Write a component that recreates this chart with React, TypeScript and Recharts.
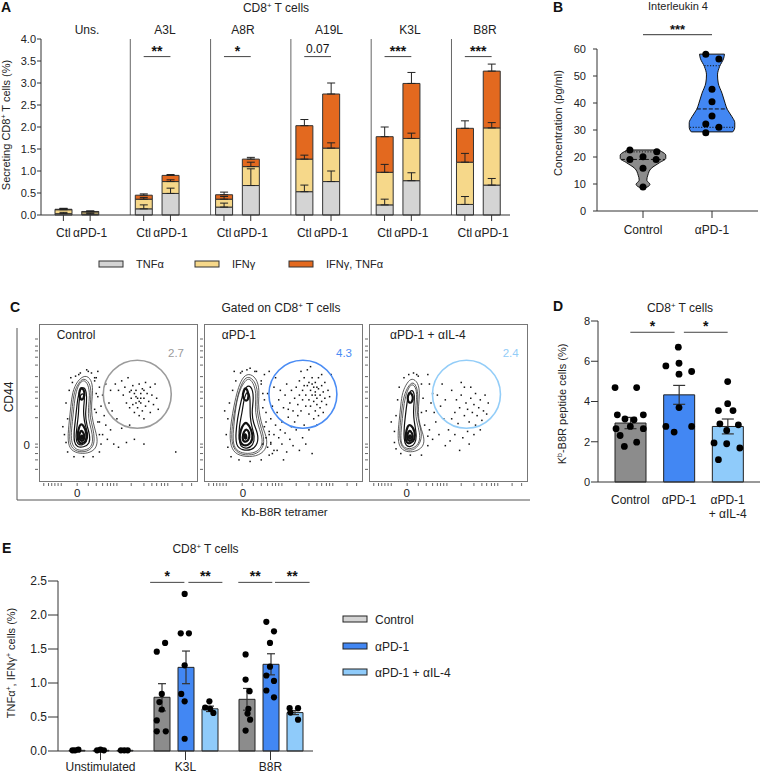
import React from 'react';
import {
  ComposedChart, Bar, XAxis, YAxis, ErrorBar, ReferenceLine, ReferenceDot,
  Scatter, Area, Line, Cell,
} from 'recharts';

const FONT = "'Liberation Sans', Arial, Helvetica, sans-serif";
const INK = '#222';

// ---------------- Panel A data ----------------
const aGroups = ['Uns.', 'A3L', 'A8R', 'A19L', 'K3L', 'B8R'];
const aConds = ['Ctl', 'αPD-1'];
const aTnf = [0.03, 0.02, 0.14, 0.49, 0.18, 0.67, 0.53, 0.76, 0.23, 0.78, 0.24, 0.68];
const aIfng = [0.09, 0.05, 0.22, 0.27, 0.18, 0.43, 0.74, 0.76, 0.74, 0.96, 0.96, 1.30];
const aBoth = [0.01, 0.01, 0.09, 0.14, 0.10, 0.17, 0.76, 1.23, 0.81, 1.25, 0.77, 1.29];
const aTnfErr = [0.03, 0.02, 0.09, 0.12, 0.09, 0.38, 0.15, 0.24, 0.13, 0.18, 0.18, 0.15];
const aIfngErr = [0.03, 0.02, 0.04, 0.04, 0.06, 0.10, 0.09, 0.12, 0.18, 0.12, 0.20, 0.12];
const aBothErr = [0.02, 0.01, 0.03, 0.02, 0.06, 0.04, 0.14, 0.25, 0.22, 0.25, 0.17, 0.16];
const aSig = ['', '**', '*', '0.07', '***', '***'];
const aSigLevel = 3.6;
const aLegend = ['TNFα', 'IFNγ', 'IFNγ, TNFα'];

// ---------------- Panel B data ----------------
const bGroups = ['Control', 'αPD-1'];
const bCtlLevels = [8.4, 9.0, 9.9, 11.4, 13.3, 15.8, 17.9, 19.5, 20.7, 22.0, 22.6];
const bCtlHalf = [0.01, 0.07, 0.10, 0.055, 0.07, 0.12, 0.24, 0.33, 0.33, 0.27, 0.23];
const bPd1Levels = [29.3, 29.6, 31.0, 32.7, 34.9, 37.7, 39.9, 43.6, 47.4, 50.4, 53.5, 56.6, 58.1];
const bPd1Half = [0.30, 0.31, 0.33, 0.33, 0.29, 0.22, 0.19, 0.145, 0.09, 0.08, 0.11, 0.17, 0.18];
const bCtlQuart = [21.9, 19.1];
const bCtlQuartHalf = [0.26, 0.32];
const bCtlQuartMedian = [false, true];
const bPd1Quart = [53.8, 37.8, 31.0];
const bPd1QuartHalf = [0.11, 0.22, 0.32];
const bPd1QuartMedian = [false, true, false];
const bCtlPts = [
  { pos: 0.81, conc: 22.6 }, { pos: 1.2, conc: 21.9 }, { pos: 1.0, conc: 20.1 },
  { pos: 0.81, conc: 19.1 }, { pos: 1.19, conc: 19.1 }, { pos: 1.0, conc: 15.8 }, { pos: 1.0, conc: 8.9 },
];
const bPd1Pts = [
  { pos: 1.91, conc: 58.1 }, { pos: 2.1, conc: 56.3 }, { pos: 2.0, conc: 45.1 }, { pos: 2.0, conc: 40.5 },
  { pos: 2.0, conc: 35.2 }, { pos: 1.91, conc: 32.2 }, { pos: 2.1, conc: 31.0 }, { pos: 1.91, conc: 29.0 },
];
const bSigLevel = 65.3;

// ---------------- Panel C data (box units 0-100) ----------------
const cTitles = ['Control', 'αPD-1', 'αPD-1 + αIL-4'];
const cGateValues = ['2.7', '4.3', '2.4'];
const cGateCenters = [{ x: 61.8, y: 55.5 }, { x: 62.2, y: 55.5 }, { x: 61.3, y: 55.5 }];
const cBottomTicks = [3, 6, 8, 10, 12, 14, 24, 31, 36, 40, 43, 45, 47, 49, 58, 66, 71, 74, 77, 79, 81, 90, 96];
const cLeftTicks = [8, 14, 18, 22, 24, 40.7, 48, 53, 57, 60, 66.7, 74, 79, 83, 86, 90.5];
const cContours1 = [
  [[29, 68], [33, 65], [34, 58], [33, 50], [33, 42], [35, 34], [37, 27], [36, 21], [31, 18], [24, 18], [19, 21], [18, 28], [19, 38], [20, 48], [21, 57], [24, 64]],
  [[28, 66], [32, 63], [33, 56], [32, 48], [32, 41], [34, 34], [35, 27], [34, 22], [30, 19], [24, 19], [20, 22], [19, 28], [20, 38], [21, 48], [22, 57], [25, 63]],
  [[28, 65], [31, 62], [32, 55], [31, 47], [31, 40], [33, 33], [34, 27], [33, 22], [29, 20], [24, 20], [21, 23], [20, 29], [21, 38], [22, 48], [23, 56], [25, 62]],
  [[28, 61], [30, 57], [30, 50], [29, 43], [30, 36], [32, 30], [32, 24], [28, 22], [24, 22], [22, 25], [22, 32], [23, 40], [24, 50], [25, 57]],
  [[27, 57], [29, 54], [28, 48], [28, 42], [29, 36], [31, 30], [30, 25], [27, 23], [24, 24], [23, 28], [24, 36], [25, 44], [25, 52]],
  [[28, 36], [30, 31], [30, 26], [27, 24], [25, 25], [24, 29], [25, 34], [26, 37]],
  [[27, 33], [29, 29], [28, 26], [26, 26], [25, 29], [26, 32]],
  [[27, 60], [29, 57], [28, 52], [26, 52], [25, 56], [26, 59]],
  [[27, 30], [28, 28], [27, 27], [26, 28]],
];
const cContours2 = [
  [[28, 69], [33, 66], [35, 58], [34, 50], [35, 42], [37, 34], [40, 27], [39, 20], [33, 16], [24, 16], [18, 19], [16, 27], [17, 38], [19, 49], [21, 58], [24, 66]],
  [[28, 67], [32, 64], [34, 57], [33, 49], [34, 41], [36, 34], [38, 27], [37, 21], [32, 17], [24, 17], [19, 20], [17, 27], [18, 38], [20, 49], [22, 58], [25, 65]],
  [[28, 66], [31, 63], [33, 56], [32, 48], [33, 40], [35, 33], [37, 27], [36, 21], [31, 18], [24, 18], [19, 21], [18, 28], [19, 38], [20, 48], [22, 57], [25, 63]],
  [[28, 62], [31, 58], [31, 51], [30, 44], [31, 37], [34, 31], [34, 24], [30, 20], [24, 20], [20, 23], [20, 31], [21, 40], [23, 50], [25, 58]],
  [[27, 58], [29, 55], [29, 48], [29, 41], [30, 35], [32, 29], [31, 23], [27, 21], [23, 22], [22, 27], [22, 35], [24, 44], [25, 52]],
  [[27, 38], [30, 33], [31, 27], [28, 23], [24, 23], [22, 27], [23, 33], [25, 37]],
  [[27, 34], [29, 30], [28, 26], [25, 25], [24, 28], [25, 32]],
  [[26, 60], [28, 57], [28, 52], [26, 51], [24, 54], [25, 58]],
  [[26, 31], [27, 28], [26, 27], [25, 29]],
];
const cContours3 = [
  [[27, 66], [31, 63], [32, 56], [31, 48], [31, 40], [33, 33], [35, 27], [34, 22], [29, 19], [23, 19], [19, 22], [18, 29], [19, 39], [20, 49], [21, 57], [24, 63]],
  [[27, 64], [30, 61], [31, 54], [30, 46], [31, 39], [33, 32], [33, 26], [29, 20], [23, 20], [20, 23], [19, 30], [20, 40], [21, 50], [23, 58]],
  [[27, 63], [30, 59], [30, 52], [29, 45], [30, 38], [32, 31], [32, 25], [28, 21], [23, 21], [20, 24], [20, 31], [21, 40], [22, 50], [24, 58]],
  [[27, 59], [29, 55], [28, 48], [28, 41], [29, 35], [30, 29], [29, 24], [26, 22], [23, 23], [22, 27], [22, 34], [23, 43], [24, 51], [25, 56]],
  [[26, 37], [29, 32], [29, 27], [26, 24], [23, 25], [23, 30], [24, 35]],
  [[26, 33], [28, 29], [27, 26], [24, 26], [24, 30], [25, 32]],
  [[26, 57], [28, 54], [27, 50], [25, 50], [24, 53], [25, 56]],
  [[26, 30], [27, 28], [25, 27], [25, 29]],
];
const cDots1 = [
  [48, 62], [50, 58], [52, 64], [53, 55], [54, 60], [55, 50], [56, 66], [57, 57], [57, 47], [58, 53], [59, 61], [60, 44], [60, 56], [61, 50], [61, 58], [62, 53], [62, 47], [63, 62], [63, 42], [64, 56], [64, 50], [65, 59], [65, 45], [66, 53], [66, 40], [67, 63], [67, 48], [68, 56], [69, 51], [70, 60], [70, 44], [71, 55], [72, 49], [73, 62], [74, 53], [75, 46], [61, 54], [59, 49], [63, 51], [64, 53], [66, 58], [58, 58],
  [38, 60], [40, 55], [39, 48], [41, 42], [42, 36], [40, 30], [43, 27], [45, 33], [44, 50], [46, 45], [38, 38], [47, 24], [50, 22], [55, 25], [60, 27], [66, 24], [36, 44], [37, 54], [42, 62], [86, 19], [45, 58], [49, 40], [52, 34], [57, 36], [35, 66], [37, 70], [30, 71], [33, 69], [25, 68],
  [17, 25], [16, 30], [18, 40], [17, 50], [19, 58], [21, 63], [23, 67], [26, 69], [31, 70], [35, 64], [36, 56], [35, 46], [37, 38], [38, 30], [39, 24], [38, 19], [34, 16], [28, 16], [22, 16], [18, 19], [36, 66], [20, 66], [15, 35],
];
const cDots2 = [
  [58, 60], [60, 64], [62, 58], [63, 66], [64, 55], [65, 61], [66, 52], [66, 63], [67, 58], [67, 48], [68, 55], [68, 66], [69, 51], [69, 60], [70, 45], [70, 57], [70, 63], [71, 53], [71, 49], [72, 59], [72, 42], [72, 66], [73, 55], [73, 47], [74, 61], [74, 51], [75, 57], [75, 44], [76, 53], [76, 63], [77, 49], [78, 58], [79, 54], [80, 68], [69, 40], [66, 43], [64, 48], [62, 52], [61, 45], [60, 55], [59, 49], [57, 53], [56, 45], [55, 58], [54, 50], [53, 41], [52, 62], [51, 55], [50, 47], [49, 38], [48, 58], [47, 52], [46, 44], [45, 36], [44, 60], [43, 48], [42, 40], [41, 32], [40, 56], [39, 44], [39, 28], [40, 22], [42, 25], [44, 30], [46, 20], [47, 28], [49, 24], [51, 31], [52, 19], [54, 27], [56, 23], [58, 33], [60, 20], [62, 28], [64, 24], [66, 33], [68, 18], [57, 38], [59, 42], [63, 36], [65, 71], [45, 66], [41, 70], [38, 35], [38, 52], [43, 18], [50, 14], [55, 35], [71, 36], [74, 68], [67, 73], [61, 70], [36, 62], [37, 24], [48, 33], [53, 46], [63, 61], [68, 62], [71, 60], [70, 55], [29, 72], [33, 70], [24, 70],
  [15, 22], [14, 30], [15, 40], [16, 50], [18, 58], [20, 64], [23, 69], [27, 71], [32, 70], [36, 64], [37, 56], [37, 47], [39, 38], [41, 30], [42, 24], [41, 17], [36, 14], [29, 13], [22, 14], [17, 16], [38, 68], [19, 70], [13, 45], [44, 20],
];
const cDots3 = [
  [52, 58], [55, 52], [57, 47], [58, 55], [60, 42], [61, 50], [62, 46], [63, 38], [64, 53], [65, 44], [66, 49], [67, 36], [67, 56], [68, 42], [69, 47], [70, 52], [71, 39], [72, 45], [73, 55], [74, 43], [75, 50], [64, 60], [60, 60], [58, 63], [54, 44], [56, 37], [62, 32], [66, 30], [70, 33], [59, 28],
  [38, 62], [40, 56], [39, 50], [41, 44], [42, 38], [38, 33], [40, 27], [44, 30], [45, 48], [47, 40], [48, 23], [51, 26], [54, 30], [43, 55], [46, 62], [36, 45], [37, 68], [50, 33], [57, 20], [63, 24], [52, 40], [48, 52], [28, 69], [31, 67],
  [16, 25], [16, 32], [17, 42], [18, 52], [19, 60], [22, 66], [25, 68], [30, 68], [33, 62], [34, 53], [33, 44], [35, 36], [37, 29], [37, 23], [33, 17], [26, 17], [20, 18], [17, 21], [14, 38],
];

// ---------------- Panel D data ----------------
const dGroups = ['Control', 'αPD-1', 'αPD-1 + αIL-4'];
const dMeans = [2.93, 4.33, 2.76];
const dSem = [0.28, 0.47, 0.37];
const dPts = [
  [0.686, 4.69], [1.13, 4.69], [0.733, 3.34], [1.267, 3.34], [0.89, 3.13], [1.076, 3.09], [0.706, 2.65], [1.267, 2.65], [1.0, 2.76], [0.79, 2.31], [1.13, 1.98], [0.877, 1.77],
  [1.986, 6.70], [1.73, 5.77], [2.0, 5.90], [2.26, 5.49], [2.0, 5.36], [2.0, 3.70], [1.73, 2.76], [2.26, 2.76], [1.9, 2.48],
  [3.0, 4.99], [3.0, 3.89], [2.81, 3.55], [3.11, 3.55], [2.84, 2.89], [3.22, 2.84], [2.98, 2.56], [2.72, 1.94], [2.98, 1.90], [3.25, 1.69], [2.81, 1.11],
];
const dSigFrom = [1, 2.1];
const dSigTo = [1.91, 3.0];
const dSigText = ['*', '*'];
const dSigLevel = 7.44;

// ---------------- Panel E data ----------------
const eGroups = ['Unstimulated', 'K3L', 'B8R'];
const eSeries = ['Control', 'αPD-1', 'αPD-1 + αIL-4'];
const eCtl = [0.01, 0.79, 0.76];
const eCtlSem = [0.005, 0.2, 0.16];
const ePd1 = [0.01, 1.23, 1.275];
const ePd1Sem = [0.005, 0.24, 0.155];
const eIl4 = [0.01, 0.62, 0.565];
const eIl4Sem = [0.004, 0.04, 0.03];
const ePts = [
  [-0.33, 0.01], [-0.26, 0.02], [-0.3, 0.01], [-0.04, 0.01], [0.0, 0.02], [0.04, 0.01], [0.24, 0.01], [0.28, 0.01], [0.32, 0.01],
  [0.662, 1.46], [0.76, 1.59], [0.721, 0.84], [0.693, 0.72], [0.721, 0.61], [0.662, 0.45], [0.662, 0.29], [0.768, 0.29],
  [0.99, 2.31], [0.944, 1.73], [1.04, 1.73], [0.99, 1.26], [0.95, 0.84], [0.99, 0.73], [0.99, 0.18],
  [1.281, 0.73], [1.231, 0.64], [1.29, 0.62], [1.328, 0.56],
  [1.707, 1.42], [1.707, 1.05], [1.754, 0.88], [1.74, 0.62], [1.73, 0.55], [1.76, 0.46], [1.707, 0.30],
  [1.951, 1.90], [2.041, 1.76], [1.994, 1.59], [1.994, 1.24], [1.951, 1.11], [2.041, 1.03], [1.951, 0.89], [2.041, 0.79],
  [2.225, 0.63], [2.324, 0.63], [2.235, 0.565], [2.324, 0.46],
];
const eSigFrom = [0.584, 1.034, 1.621, 2.053];
const eSigTo = [0.987, 1.434, 2.021, 2.46];
const eSigText = ['*', '**', '**', '**'];
const eSigLevel = 2.48;

// ---------------- colours ----------------
const A_COLORS = ['#d4d4d4', '#f6d88a', '#e3691f'];
const GRAY = '#8c8c8c';
const BLUE = '#4287f3';
const LIGHT = '#8fcbfa';
const GATE_COLORS = ['#9b9b9b', '#4a8cf4', '#93cdf8'];

const starLabel = (value: string, size = 14) => ({
  value, position: 'top' as const, offset: value.includes('*') ? 1 : 4, fontSize: size,
  fontWeight: value.includes('*') ? 700 : 400, fill: '#111',
});

const dotShape = (r: number) => (p: any) =>
  p.cx == null ? <g /> : <circle cx={p.cx} cy={p.cy} r={r} fill="#000" />;
const tinyShape = (p: any) =>
  p.cx == null ? <g /> : <rect x={p.cx - 0.75} y={p.cy - 0.75} width={1.5} height={1.5} fill="#111" />;
const bottomTick = (p: any) => <line x1={p.x} x2={p.x} y1={p.y + 1} y2={p.y + 4} stroke="#666" />;
const leftTick = (p: any) => <line x1={p.x - 4} x2={p.x - 1} y1={p.y} y2={p.y} stroke="#666" />;

// ---------------- Panel A ----------------
function PanelA() {
  const rows: any[] = [];
  aGroups.forEach((g, gi) => {
    aConds.forEach((c, ci) => {
      const i = gi * 2 + ci;
      rows.push({
        key: `${g}|${c}`, label: c,
        tnf: aTnf[i], ifng: aIfng[i], both: aBoth[i],
        eTnf: [0, aTnfErr[i]], eIfng: [0, aIfngErr[i]], eBoth: [0, aBothErr[i]],
      });
    });
    if (gi < aGroups.length - 1) rows.push({ key: `gap${gi}`, label: '' });
  });
  const tick = (p: any) => {
    const row = rows.find((r) => r.key === p.payload.value);
    if (!row || !row.label) return <g />;
    return (
      <g>
        <line x1={p.x} x2={p.x} y1={p.y - 6} y2={p.y} stroke="#333" />
        <text x={p.x} y={p.y + 16} textAnchor="middle" fontSize={12} fill={INK}>{row.label}</text>
      </g>
    );
  };
  return (
    <ComposedChart width={530} height={250} data={rows} margin={{ top: 39, right: 20, bottom: 5, left: 0 }}>
      <XAxis dataKey="key" type="category" interval={0} tick={tick} tickLine={false} tickSize={6} tickMargin={0}
        height={30} padding={{ left: 9, right: 5 }} stroke="#333" />
      <YAxis domain={[0, 4]} ticks={[0, 0.5, 1, 1.5, 2, 2.5, 3, 3.5, 4]} tickFormatter={(v: number) => v.toFixed(1)}
        width={41} tickSize={4} tickMargin={1} stroke="#333" tick={{ fontSize: 11, fill: INK }} />
      {aGroups.slice(0, -1).map((g, gi) => (
        <ReferenceLine key={`sep${gi}`} x={`gap${gi}`} position="end" stroke="#666" strokeWidth={1} />
      ))}
      <Bar dataKey="tnf" stackId="s" fill={A_COLORS[0]} stroke="#333" strokeWidth={1} barSize={17} isAnimationActive={false}>
        <ErrorBar dataKey="eTnf" width={4} stroke="#222" strokeWidth={1} direction="y" />
      </Bar>
      <Bar dataKey="ifng" stackId="s" fill={A_COLORS[1]} stroke="#333" strokeWidth={1} barSize={17} isAnimationActive={false}>
        <ErrorBar dataKey="eIfng" width={4} stroke="#222" strokeWidth={1} direction="y" />
      </Bar>
      <Bar dataKey="both" stackId="s" fill={A_COLORS[2]} stroke="#333" strokeWidth={1} barSize={17} isAnimationActive={false}>
        <ErrorBar dataKey="eBoth" width={4} stroke="#222" strokeWidth={1} direction="y" />
      </Bar>
      {aGroups.map((g, gi) => aSig[gi] ? (
        <ReferenceLine key={`sig${gi}`} segment={[{ x: `${g}|Ctl`, y: aSigLevel }, { x: `${g}|αPD-1`, y: aSigLevel }]}
          stroke="#444" strokeWidth={1} ifOverflow="visible"
          label={starLabel(aSig[gi], aSig[gi].includes('*') ? 14 : 12)} />
      ) : null)}
    </ComposedChart>
  );
}

// ---------------- Panel B ----------------
function PanelB() {
  const ctl = bCtlLevels.map((c, i) => ({ conc: c, w: [1 - bCtlHalf[i], 1 + bCtlHalf[i]] }));
  const pd1 = bPd1Levels.map((c, i) => ({ conc: c, w: [2 - bPd1Half[i], 2 + bPd1Half[i]] }));
  const ends = [
    { c: 1, v: bCtlLevels[0], h: bCtlHalf[0] },
    { c: 1, v: bCtlLevels[bCtlLevels.length - 1], h: bCtlHalf[bCtlHalf.length - 1] },
    { c: 2, v: bPd1Levels[0], h: bPd1Half[0] },
    { c: 2, v: bPd1Levels[bPd1Levels.length - 1], h: bPd1Half[bPd1Half.length - 1] },
  ];
  const quarts = [
    ...bCtlQuart.map((v, i) => ({ c: 1, v, h: bCtlQuartHalf[i], m: bCtlQuartMedian[i] })),
    ...bPd1Quart.map((v, i) => ({ c: 2, v, h: bPd1QuartHalf[i], m: bPd1QuartMedian[i] })),
  ];
  return (
    <ComposedChart layout="vertical" width={220} height={250} margin={{ top: 49, right: 2, bottom: 9, left: 0 }}>
      <XAxis type="number" dataKey="pos" domain={[1 / 3, 8 / 3]} ticks={[1, 2]} allowDataOverflow
        tickFormatter={(v: number) => bGroups[Math.round(v) - 1]} height={30} tickSize={7} tickMargin={7}
        stroke="#333" tick={{ fontSize: 12, fill: INK }} />
      <YAxis type="number" dataKey="conc" domain={[0, 60]} ticks={[0, 10, 20, 30, 40, 50, 60]} reversed
        width={57} tickSize={4} tickMargin={7} stroke="#333" tick={{ fontSize: 11, fill: INK }} />
      <Area data={ctl} dataKey="w" type="monotone" fill={GRAY} fillOpacity={1} stroke="#111" strokeWidth={1}
        dot={false} activeDot={false} isAnimationActive={false} />
      <Area data={pd1} dataKey="w" type="monotone" fill={BLUE} fillOpacity={1} stroke="#111" strokeWidth={1}
        dot={false} activeDot={false} isAnimationActive={false} />
      {ends.map((e, i) => (
        <ReferenceLine key={`end${i}`} segment={[{ x: e.c - e.h, y: e.v }, { x: e.c + e.h, y: e.v }]}
          stroke="#111" strokeWidth={1} ifOverflow="visible" />
      ))}
      {quarts.map((q, i) => (
        <ReferenceLine key={`q${i}`} segment={[{ x: q.c - q.h, y: q.v }, { x: q.c + q.h, y: q.v }]}
          stroke="#111" strokeWidth={1} strokeDasharray={q.m ? '4 2' : '1.2 1.6'} ifOverflow="visible" />
      ))}
      <Scatter data={bCtlPts} shape={dotShape(3.5)} isAnimationActive={false} />
      <Scatter data={bPd1Pts} shape={dotShape(3.5)} isAnimationActive={false} />
      <ReferenceLine segment={[{ x: 1, y: bSigLevel }, { x: 2, y: bSigLevel }]} stroke="#333" ifOverflow="visible"
        label={starLabel('***', 13)} />
    </ComposedChart>
  );
}

// ---------------- Panel C ----------------
function FlowPlot({ left, contours, dots, gi }: any) {
  const dotRows = dots.map((d: number[]) => ({ x: d[0], y: d[1] }));
  const n = contours.length;
  return (
    <div style={{ position: 'absolute', left: left - 4, top: 324, width: 163, height: 162 }}>
      <ComposedChart width={163} height={162} margin={{ top: 0, right: 0, bottom: 0, left: 0 }}>
        <XAxis type="number" dataKey="x" domain={[0, 100]} allowDataOverflow height={4} ticks={cBottomTicks}
          tick={bottomTick} tickLine={false} axisLine={false} interval={0} tickSize={0} tickMargin={0} />
        <YAxis type="number" domain={[0, 100]} allowDataOverflow width={4} ticks={cLeftTicks}
          tick={leftTick} tickLine={false} axisLine={false} interval={0} tickSize={0} tickMargin={0} />
        {contours.map((c: number[][], i: number) => (
          <Line key={i} data={c.map((p) => ({ x: p[0], y: p[1] }))} dataKey="y" type="basisClosed"
            stroke={i < 3 ? '#333' : '#111'} strokeWidth={i < 3 ? 0.8 : i >= n - 4 ? 2.2 : 1.2}
            dot={false} activeDot={false} isAnimationActive={false} />
        ))}
        <Scatter data={dotRows} dataKey="y" shape={tinyShape} isAnimationActive={false} />
        <ReferenceDot x={cGateCenters[gi].x} y={cGateCenters[gi].y} r={34} fill="none"
          stroke={GATE_COLORS[gi]} strokeWidth={1.6} ifOverflow="visible" />
      </ComposedChart>
      <div style={{ position: 'absolute', left: 4, top: 0, width: 157, height: 156, border: '1px solid #777', pointerEvents: 'none' }} />
    </div>
  );
}

function PanelC() {
  return (
    <>
      <FlowPlot left={39} contours={cContours1} dots={cDots1} gi={0} />
      <FlowPlot left={204} contours={cContours2} dots={cDots2} gi={1} />
      <FlowPlot left={369} contours={cContours3} dots={cDots3} gi={2} />
    </>
  );
}

// ---------------- Panel D ----------------
function PanelD() {
  const rows = dGroups.map((g, i) => ({ name: g, mean: dMeans[i], sem: dSem[i] }));
  const pts = dPts.map((p) => ({ x: p[0], y: p[1] }));
  const colors = [GRAY, BLUE, LIGHT];
  const tick = (p: any) => {
    const parts = String(p.payload.value).split(' + ');
    return (
      <g>
        <text x={p.x} y={p.y + 14} textAnchor="middle" fontSize={12} fill={INK}>{parts[0]}</text>
        {parts[1] ? <text x={p.x} y={p.y + 27.5} textAnchor="middle" fontSize={12} fill={INK}>{'+ ' + parts[1]}</text> : null}
      </g>
    );
  };
  return (
    <ComposedChart width={220} height={240} data={rows} margin={{ top: 41, right: 0, bottom: 8, left: 0 }}>
      <XAxis dataKey="name" type="category" tick={tick} tickLine={false} height={30} padding={{ left: 8, right: 8 }} stroke="#333" interval={0} />
      <XAxis xAxisId="n" type="number" dataKey="x" domain={[0.5, 3.5]} padding={{ left: 8, right: 8 }} hide allowDataOverflow />
      <YAxis domain={[0, 8]} ticks={[0, 2, 4, 6, 8]} width={58} tickSize={7} tickMargin={1} stroke="#333" tick={{ fontSize: 11, fill: INK }} />
      <Bar dataKey="mean" barSize={31} stroke="#222" strokeWidth={1} isAnimationActive={false}>
        {rows.map((r, i) => <Cell key={i} fill={colors[i]} />)}
        <ErrorBar dataKey="sem" width={6} stroke="#333" strokeWidth={1.2} direction="y" />
      </Bar>
      <Scatter xAxisId="n" data={pts} dataKey="y" shape={dotShape(3.4)} isAnimationActive={false} />
      {dSigFrom.map((f, i) => (
        <ReferenceLine key={i} xAxisId="n" segment={[{ x: f, y: dSigLevel }, { x: dSigTo[i], y: dSigLevel }]}
          stroke="#444" ifOverflow="visible" label={starLabel(dSigText[i], 14)} />
      ))}
    </ComposedChart>
  );
}

// ---------------- Panel E ----------------
function PanelE() {
  const rows = eGroups.map((g, i) => ({
    name: g, ctl: eCtl[i], ctlSem: eCtlSem[i], pd1: ePd1[i], pd1Sem: ePd1Sem[i], il4: eIl4[i], il4Sem: eIl4Sem[i],
  }));
  const pts = ePts.map((p) => ({ x: p[0], y: p[1] }));
  return (
    <ComposedChart width={320} height={254} data={rows} margin={{ top: 61, right: 7, bottom: 1, left: 0 }} barGap={8}>
      <XAxis dataKey="name" type="category" height={22} tickSize={9} tickMargin={2} stroke="#333" tick={{ fontSize: 12, fill: INK }} interval={0} />
      <XAxis xAxisId="n" type="number" dataKey="x" domain={[-0.5, 2.5]} hide allowDataOverflow />
      <YAxis domain={[0, 2.5]} ticks={[0, 0.5, 1, 1.5, 2, 2.5]} tickFormatter={(v: number) => v.toFixed(1)}
        width={58} tickSize={10} tickMargin={1} stroke="#333" tick={{ fontSize: 12, fill: INK }} />
      <Bar dataKey="ctl" name={eSeries[0]} barSize={16} fill={GRAY} stroke="#222" strokeWidth={1} isAnimationActive={false}>
        <ErrorBar dataKey="ctlSem" width={4} stroke="#333" strokeWidth={1.2} direction="y" />
      </Bar>
      <Bar dataKey="pd1" name={eSeries[1]} barSize={16} fill={BLUE} stroke="#222" strokeWidth={1} isAnimationActive={false}>
        <ErrorBar dataKey="pd1Sem" width={4} stroke="#333" strokeWidth={1.2} direction="y" />
      </Bar>
      <Bar dataKey="il4" name={eSeries[2]} barSize={16} fill={LIGHT} stroke="#222" strokeWidth={1} isAnimationActive={false}>
        <ErrorBar dataKey="il4Sem" width={4} stroke="#333" strokeWidth={1.2} direction="y" />
      </Bar>
      <Scatter xAxisId="n" data={pts} dataKey="y" shape={dotShape(3.1)} isAnimationActive={false} />
      {eSigFrom.map((f, i) => (
        <ReferenceLine key={i} xAxisId="n" segment={[{ x: f, y: eSigLevel }, { x: eSigTo[i], y: eSigLevel }]}
          stroke="#444" ifOverflow="visible" label={starLabel(eSigText[i], 14)} />
      ))}
    </ComposedChart>
  );
}

// ---------------- Overlay text ----------------
function Overlay() {
  const letter = (x: number, y: number, s: string) => (
    <text x={x} y={y} fontSize={14} fontWeight={700} fill="#111">{s}</text>
  );
  const cd8 = (x: number, y: number, size = 12) => (
    <text x={x} y={y} textAnchor="middle" fontSize={size} fill={INK}>
      CD8<tspan dy={-4} fontSize={size * 0.65}>+</tspan><tspan dy={4}> T cells</tspan>
    </text>
  );
  const aGroupX = [87, 165, 243, 329, 410, 485];
  const aLegX = [99, 195, 289];
  const eLegY = [619, 646, 672];
  const eLegColors = ['#d4d4d4', BLUE, LIGHT];
  return (
    <svg width={760} height={774} style={{ position: 'absolute', left: 0, top: 0, pointerEvents: 'none', fontFamily: FONT }}>
      {letter(1, 12, 'A')}
      {letter(553, 12, 'B')}
      {letter(10, 312, 'C')}
      {letter(553, 311, 'D')}
      {letter(2, 553, 'E')}
      {cd8(276, 12)}
      <text x={678} y={10} textAnchor="middle" fontSize={11} fill={INK}>Interleukin 4</text>
      <text x={281} y={312} textAnchor="middle" fontSize={12} fill={INK}>
        Gated on CD8<tspan dy={-4} fontSize={8}>+</tspan><tspan dy={4}> T cells</tspan>
      </text>
      {cd8(680, 312)}
      {cd8(205.5, 553)}

      {aGroups.map((g, i) => (
        <text key={g} x={aGroupX[i]} y={33.5} textAnchor="middle" fontSize={12} fill={INK}>{g}</text>
      ))}
      <text x={6} y={125} textAnchor="middle" dominantBaseline="central" fontSize={11} fill={INK} transform="rotate(-90 6 125)">
        Secreting CD8<tspan dy={-3} fontSize={7}>+</tspan><tspan dy={3}> T cells (%)</tspan>
      </text>
      {aLegend.map((l, i) => (
        <g key={l}>
          <rect x={aLegX[i]} y={261} width={24} height={6} fill={A_COLORS[i]} stroke="#333" strokeWidth={1} />
          <text x={aLegX[i] + 37} y={268} fontSize={11} fill={INK}>{l}</text>
        </g>
      ))}

      <text x={558} y={123} textAnchor="middle" dominantBaseline="central" fontSize={11} fill={INK} transform="rotate(-90 558 123)">
        Concentration (pg/ml)
      </text>

      {/* Panel C frame and labels */}
      <line x1={17} y1={328} x2={17} y2={500} stroke="#555" />
      <line x1={17} y1={500} x2={530} y2={500} stroke="#555" />
      <text x={9} y={397} textAnchor="middle" dominantBaseline="central" fontSize={12} fill={INK} transform="rotate(-90 9 397)">CD44</text>
      <text x={284.5} y={515.5} textAnchor="middle" fontSize={11.5} fill={INK}>Kb-B8R tetramer</text>
      <text x={26.7} y={449} textAnchor="middle" fontSize={11.5} fill={INK}>0</text>
      {[77.3, 243, 406.7].map((x, i) => (
        <text key={i} x={x} y={496.5} textAnchor="middle" fontSize={11.5} fill={INK}>0</text>
      ))}
      {[56.7, 221.7, 390].map((x, i) => (
        <text key={i} x={x} y={339} fontSize={12} fill={INK}>{cTitles[i]}</text>
      ))}
      {[176, 344, 510.7].map((x, i) => (
        <text key={i} x={x} y={357} textAnchor="middle" fontSize={11.5} fill={GATE_COLORS[i]}>{cGateValues[i]}</text>
      ))}

      <text x={562} y={404} textAnchor="middle" dominantBaseline="central" fontSize={11} fill={INK} transform="rotate(-90 562 404)">
        K<tspan dy={-3} fontSize={7}>b</tspan><tspan dy={3}>-B8R peptide cells (%)</tspan>
      </text>

      <text x={10.5} y={663} textAnchor="middle" dominantBaseline="central" fontSize={11} fill={INK} transform="rotate(-90 10.5 663)">
        TNFα<tspan dy={-3} fontSize={7}>+</tspan><tspan dy={3}>, IFNγ</tspan><tspan dy={-3} fontSize={7}>+</tspan><tspan dy={3}> cells (%)</tspan>
      </text>
      {eSeries.map((s, i) => (
        <g key={s}>
          <rect x={343} y={eLegY[i] - 3} width={24} height={6} fill={eLegColors[i]} stroke="#222" strokeWidth={1} />
          <text x={375} y={eLegY[i] + 4.5} fontSize={12} fill={INK}>{s}</text>
        </g>
      ))}
    </svg>
  );
}

export default function App() {
  return (
    <div style={{ position: 'absolute', left: 0, top: 0, width: 760, height: 774, background: '#fff', fontFamily: FONT, overflow: 'hidden' }}>
      <div style={{ position: 'absolute', left: 0, top: 0 }}><PanelA /></div>
      <div style={{ position: 'absolute', left: 540, top: 0 }}><PanelB /></div>
      <PanelC />
      <div style={{ position: 'absolute', left: 540, top: 280 }}><PanelD /></div>
      <div style={{ position: 'absolute', left: 0, top: 520 }}><PanelE /></div>
      <Overlay />
    </div>
  );
}
